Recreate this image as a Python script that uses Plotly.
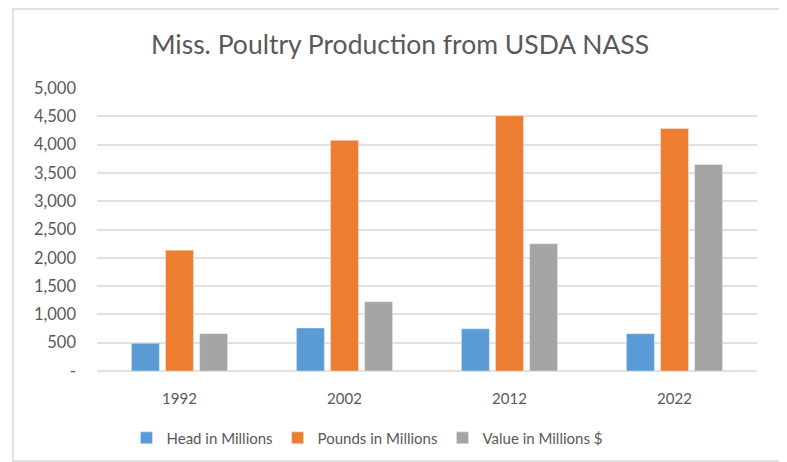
import plotly.graph_objects as go

years = ["1992", "2002", "2012", "2022"]
head_millions = [490, 760, 745, 660]
pounds_millions = [2135, 4075, 4510, 4285]
value_millions = [660, 1225, 2250, 3650]

y_tickvals = [0, 500, 1000, 1500, 2000, 2500, 3000, 3500, 4000, 4500, 5000]
y_ticktext = ["-", "500", "1,000", "1,500", "2,000", "2,500", "3,000", "3,500", "4,000", "4,500", "5,000"]

FONT = "Lato"
TXT = "#595959"

fig = go.Figure()
fig.add_trace(go.Bar(x=years, y=head_millions, name="Head in Millions", marker_color="#5B9BD5"))
fig.add_trace(go.Bar(x=years, y=pounds_millions, name="Pounds in Millions", marker_color="#ED7D31"))
fig.add_trace(go.Bar(x=years, y=value_millions, name="Value in Millions $", marker_color="#A5A5A5"))

fig.update_layout(
    width=787, height=462,
    margin=dict(l=89, r=38, t=80, b=99),
    paper_bgcolor="white", plot_bgcolor="white",
    barmode="group", bargap=0.38, bargroupgap=0.18,
    font=dict(family=FONT, color=TXT, size=14),
    title=dict(text="Miss. Poultry Production from USDA NASS", x=392 / 787, xanchor="center",
               y=1 - 37 / 462, yanchor="middle", font=dict(size=26.5, color=TXT, family=FONT)),
    showlegend=True,
    legend=dict(orientation="h", x=(367 - 97) / 660, xanchor="center", y=-0.237, yanchor="middle",
                font=dict(size=15, color=TXT), itemwidth=30, traceorder="normal"),
    xaxis=dict(showgrid=False, showline=False, ticks="", tickfont=dict(size=15, color=TXT),
               ticklabelstandoff=17),
    yaxis=dict(range=[0, 5000], tickvals=y_tickvals, ticktext=y_ticktext, showgrid=True,
               gridcolor="#E5E0DD", gridwidth=1.5, zeroline=True, zerolinecolor="#E5E0DD",
               zerolinewidth=1.5, showline=False, ticks="", tickfont=dict(size=16.5, color=TXT),
               ticklabelstandoff=20),
    shapes=[dict(type="rect", xref="paper", yref="paper",
                 x0=(13 - 97) / 660, x1=(782 - 97) / 660,
                 y0=(371 - 461) / 283, y1=(371 - 9) / 283,
                 line=dict(color="#DCD6D2", width=1.5), fillcolor="rgba(0,0,0,0)", layer="below")],
)

fig.write_html("out.html")
